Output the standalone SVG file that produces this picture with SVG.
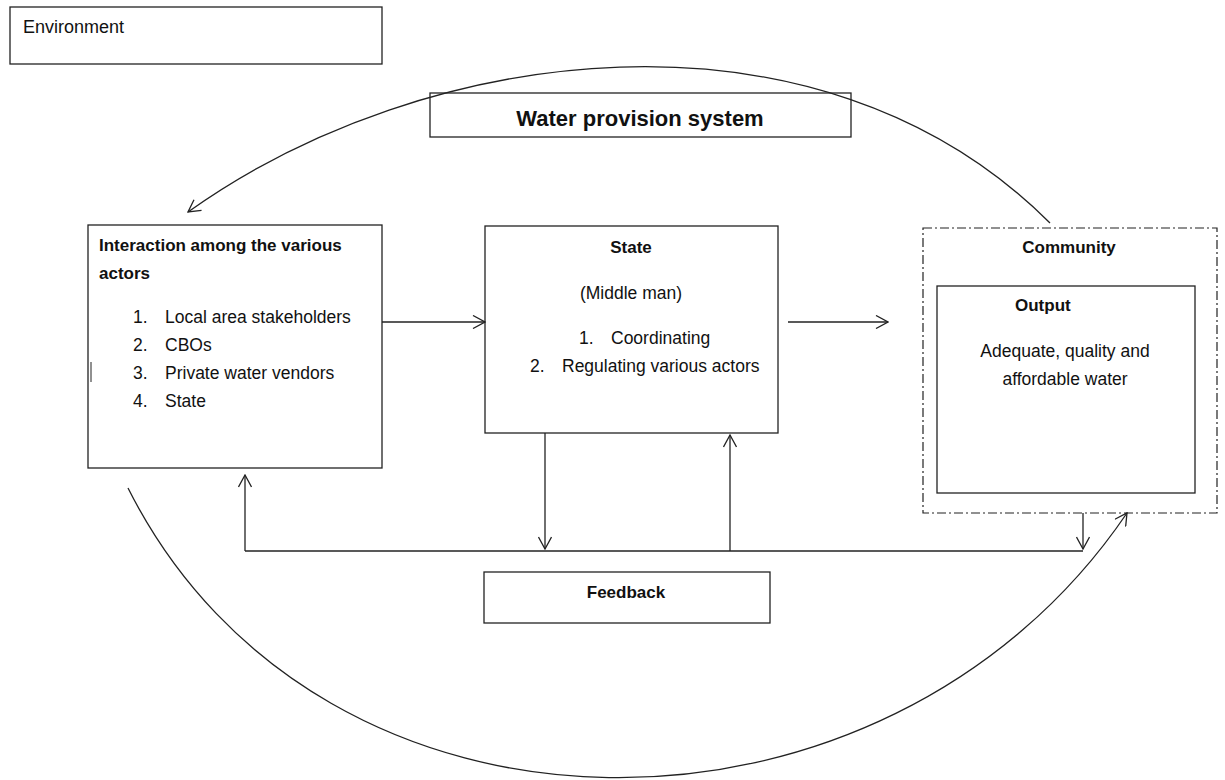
<svg xmlns="http://www.w3.org/2000/svg" width="1225" height="780" viewBox="0 0 1225 780">
<style>
.box{fill:#fff;stroke:#222;stroke-width:1.3}
.dd{fill:none;stroke:#222;stroke-width:1.2;stroke-dasharray:9 3 2 3}
.ln{fill:none;stroke:#222;stroke-width:1.3}
.t{font-family:"Liberation Sans",Arial,sans-serif;font-size:17.5px;fill:#111}
.b{font-family:"Liberation Sans",Arial,sans-serif;font-size:17px;font-weight:bold;fill:#111}
.m{text-anchor:middle}
</style>
<defs>
<marker id="ah" viewBox="0 0 14 14" refX="13" refY="7" markerWidth="14" markerHeight="14" markerUnits="userSpaceOnUse" orient="auto">
<path d="M1,0.5 L13,7 L1,13.5" fill="none" stroke="#222" stroke-width="1.3"/>
</marker>
</defs>
<rect width="1225" height="780" fill="#fff"/>
<g id="environment">
<rect class="box" x="10" y="7" width="372" height="57"/>
<text class="t" x="23" y="33" style="font-size:18px">Environment</text>
</g>
<g id="water-provision-system">
<rect class="box" x="430" y="93" width="421" height="44"/>
<text class="b m" x="640" y="126" style="font-size:22px">Water provision system</text>
</g>
<g id="interaction">
<rect class="box" x="88" y="225" width="294" height="243"/>
<text class="b" x="99" y="251">Interaction among the various</text>
<text class="b" x="99" y="279">actors</text>
<text class="t" x="133" y="323">1.</text><text class="t" x="165" y="323">Local area stakeholders</text>
<text class="t" x="133" y="351">2.</text><text class="t" x="165" y="351">CBOs</text>
<text class="t" x="133" y="379">3.</text><text class="t" x="165" y="379">Private water vendors</text>
<text class="t" x="133" y="407">4.</text><text class="t" x="165" y="407">State</text>
<line x1="91" y1="362" x2="91" y2="382" stroke="#222" stroke-width="1"/>
</g>
<g id="state">
<rect class="box" x="485" y="226" width="293" height="207"/>
<text class="b m" x="631" y="253">State</text>
<text class="t m" x="631" y="299">(Middle man)</text>
<text class="t" x="579" y="344">1.</text><text class="t" x="611" y="344">Coordinating</text>
<text class="t" x="530" y="372">2.</text><text class="t" x="562" y="372">Regulating various actors</text>
</g>
<g id="community">
<rect class="dd" x="923" y="228" width="294" height="285"/>
<text class="b m" x="1069" y="253">Community</text>
</g>
<g id="output">
<rect class="box" x="937" y="286" width="258" height="207"/>
<text class="b" x="1015" y="311">Output</text>
<text class="t m" x="1065" y="357">Adequate, quality and</text>
<text class="t m" x="1065" y="385">affordable water</text>
</g>
<g id="feedback">
<rect class="box" x="484" y="572" width="286" height="51"/>
<text class="b m" x="626" y="598">Feedback</text>
</g>
<g id="connectors">
<path class="ln" d="M1050,223 C817,-10 423,44 188,212" marker-end="url(#ah)"/>
<path class="ln" d="M128,488 C320,870 885,870 1127,513" marker-end="url(#ah)"/>
<line class="ln" x1="382" y1="322" x2="485" y2="322" marker-end="url(#ah)"/>
<line class="ln" x1="788" y1="322" x2="888" y2="322" marker-end="url(#ah)"/>
<line class="ln" x1="245" y1="551" x2="1083" y2="551"/>
<line class="ln" x1="245" y1="551" x2="245" y2="475" marker-end="url(#ah)"/>
<line class="ln" x1="545" y1="433" x2="545" y2="549" marker-end="url(#ah)"/>
<line class="ln" x1="730" y1="551" x2="730" y2="435" marker-end="url(#ah)"/>
<line class="ln" x1="1083" y1="513" x2="1083" y2="549" marker-end="url(#ah)"/>
</g>
</svg>
